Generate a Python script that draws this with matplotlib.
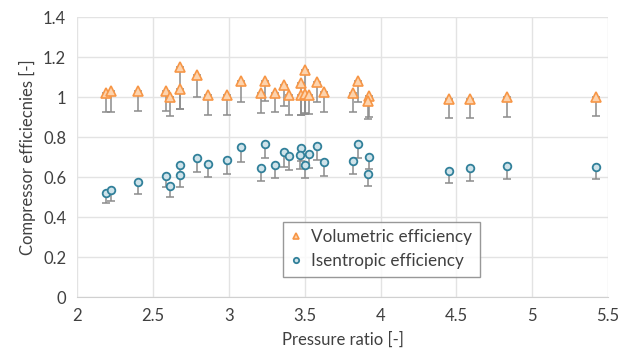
import matplotlib.pyplot as plt
from matplotlib.ticker import FormatStrFormatter, MultipleLocator

plt.rcParams['font.family'] = ['Lato', 'DejaVu Sans']

# Volumetric efficiency (triangles), value and lower end of error bar
vol_pr = [2.19, 2.22, 2.40, 2.586, 2.609, 2.677, 2.677, 2.79, 2.863, 2.986, 3.08,
          3.212, 3.238, 3.307, 3.364, 3.395, 3.474, 3.50, 3.474, 3.50, 3.526,
          3.581, 3.627, 3.816, 3.851, 3.922, 3.92, 4.449, 4.587, 4.833, 5.42]
vol_eff = [1.023, 1.03, 1.03, 1.03, 1.003, 1.15, 1.04, 1.11, 1.01, 1.01, 1.08,
           1.02, 1.083, 1.023, 1.06, 1.01, 1.07, 1.135, 1.01, 1.017, 1.01,
           1.077, 1.027, 1.023, 1.083, 1.007, 0.983, 0.99, 0.993, 1.0, 1.003]
vol_low = [0.925, 0.928, 0.93, 0.93, 0.908, 0.94, 0.94, 1.0, 0.91, 0.91, 0.978,
           0.92, 0.983, 0.926, 0.957, 0.91, 0.91, 0.92, 0.91, 0.915, 0.917,
           0.978, 0.926, 0.926, 0.978, 0.903, 0.89, 0.895, 0.898, 0.9, 0.908]

# Isentropic efficiency (circles)
isen_pr = [2.19, 2.22, 2.40, 2.586, 2.609, 2.677, 2.677, 2.79, 2.863, 2.986, 3.08,
           3.212, 3.238, 3.307, 3.364, 3.395, 3.474, 3.466, 3.50, 3.526,
           3.581, 3.627, 3.816, 3.851, 3.922, 3.92, 4.449, 4.587, 4.833, 5.42]
isen_eff = [0.52, 0.536, 0.575, 0.607, 0.557, 0.66, 0.61, 0.695, 0.665, 0.685, 0.75,
            0.647, 0.767, 0.66, 0.725, 0.705, 0.747, 0.71, 0.66, 0.715,
            0.758, 0.675, 0.683, 0.768, 0.703, 0.615, 0.633, 0.647, 0.655, 0.653]
isen_low = [0.47, 0.483, 0.518, 0.55, 0.50, 0.61, 0.553, 0.625, 0.60, 0.618, 0.678,
            0.583, 0.695, 0.597, 0.65, 0.637, 0.68, 0.643, 0.598, 0.645,
            0.686, 0.608, 0.615, 0.695, 0.64, 0.555, 0.57, 0.583, 0.59, 0.59]

fig = plt.figure(figsize=(6.32, 3.6), dpi=100)
ax = fig.add_axes([0.1223, 0.174, 0.8397, 0.778])

err_col = '#8c8c8c'
vol_err = [[v - l for v, l in zip(vol_eff, vol_low)], [0] * len(vol_eff)]
isen_err = [[v - l for v, l in zip(isen_eff, isen_low)], [0] * len(isen_eff)]
ax.errorbar(vol_pr, vol_eff, yerr=vol_err, fmt='none', ecolor=err_col,
            elinewidth=1.1, capsize=3, capthick=1.1, zorder=2)
ax.errorbar(isen_pr, isen_eff, yerr=isen_err, fmt='none', ecolor=err_col,
            elinewidth=1.1, capsize=3, capthick=1.1, zorder=2)

ax.plot(vol_pr, vol_eff, linestyle='none', marker='^', markersize=7,
        markerfacecolor='#fdd3ad', markeredgecolor='#f79646', markeredgewidth=1.2,
        label='Volumetric efficiency', zorder=3)
ax.plot(isen_pr, isen_eff, linestyle='none', marker='o', markersize=5.5,
        markerfacecolor='#cfe3ea', markeredgecolor='#31809a', markeredgewidth=1.3,
        label='Isentropic efficiency', zorder=3)

ax.set_xlim(2, 5.5)
ax.set_ylim(0, 1.4)
ax.xaxis.set_major_locator(MultipleLocator(0.5))
ax.yaxis.set_major_locator(MultipleLocator(0.2))
ax.xaxis.set_major_formatter(FormatStrFormatter('%g'))
ax.yaxis.set_major_formatter(FormatStrFormatter('%g'))

ax.grid(True, color='#e3e3e3', linewidth=1)
ax.set_axisbelow(True)
for s in ['top', 'right', 'left']:
    ax.spines[s].set_visible(False)
ax.spines['bottom'].set_color('#d0d0d0')
ax.tick_params(length=0, labelsize=12, colors='#404040', pad=8)

ax.set_xlabel('Pressure ratio [-]', fontsize=12, color='#404040', labelpad=5)
ax.set_ylabel('Compressor efficiecnies [-]', fontsize=12, color='#404040', labelpad=5)

leg = ax.legend(loc='lower left', bbox_to_anchor=(0.387, 0.074), fontsize=12.3,
                frameon=True, fancybox=False, edgecolor='#7f7f7f',
                handlelength=0.7, handletextpad=0.5, markerscale=0.7,
                borderpad=0.45, labelspacing=0.45, borderaxespad=0)
leg.get_frame().set_linewidth(1)
for t in leg.get_texts():
    t.set_color('#404040')

fig.savefig('out.png', dpi=100)
